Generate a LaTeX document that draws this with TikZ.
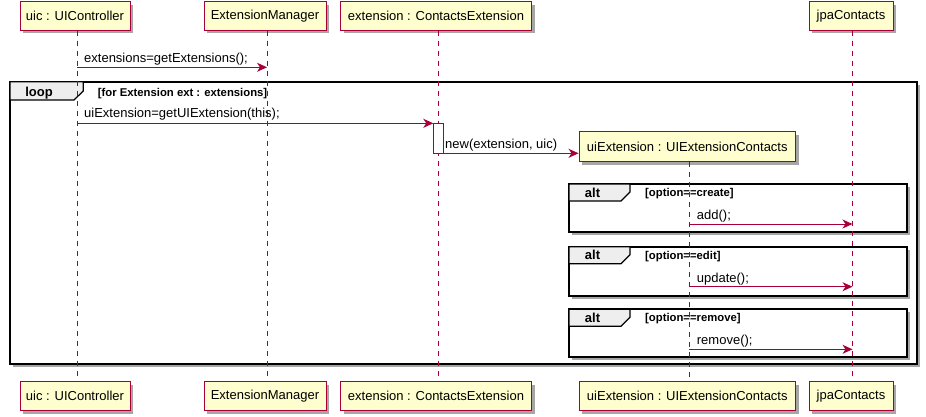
\documentclass[tikz,border=0pt]{standalone}
\usepackage{fontspec}
\setmainfont{Liberation Sans}
\usetikzlibrary{arrows.meta,shadows}
\definecolor{pumlred}{HTML}{A80036}
\definecolor{pumlfill}{HTML}{FEFECE}
\definecolor{tabfill}{HTML}{EEEEEE}
\tikzset{
  part/.style={draw=pumlred, fill=pumlfill, line width=1pt, inner sep=0pt,
    font=\fontsize{13}{15}\selectfont,
    drop shadow={shadow xshift=3pt, shadow yshift=-3pt, fill=black, opacity=.35}},
  life/.style={draw=pumlred, line width=0.8pt, dash pattern=on 5pt off 5pt},
  msg/.style={draw=pumlred, line width=1pt, -{Stealth[length=10pt,width=9pt,inset=3pt]}},
  msgtxt/.style={anchor=base west, inner sep=0pt, font=\fontsize{13}{15}\selectfont},
  frm/.style={draw=black, line width=2pt, fill=white,
    drop shadow={shadow xshift=3pt, shadow yshift=-3pt, fill=black, opacity=.35}},
  tab/.style={draw=black, line width=1.2pt, fill=tabfill},
  tabtxt/.style={anchor=base, inner sep=0pt, font=\bfseries\fontsize{13}{15}\selectfont},
  guard/.style={anchor=base west, inner sep=0pt, font=\bfseries\fontsize{11.3}{13}\selectfont},
  act/.style={draw=pumlred, fill=white, line width=1pt}
}
\begin{document}
\begin{tikzpicture}[x=1pt,y=-1pt]
\useasboundingbox (0,0) rectangle (926,417);
% frames
\draw[frm] (10,81.7) rectangle (916.7,364);
\draw[tab] (10,81.7) -- (83.3,81.7) -- (83.3,91) -- (74,100) -- (10,100) -- cycle;
\node[tabtxt] (loopl) at (39,97) {loop};
\node[guard] (loopg) at (97.7,96.5) {[for Extension ext : extensions]};
\foreach \t/\b/\g/\n in {184/232.3/{[option==create]}/a, 246.7/295.7/{[option==edit]}/b, 309.3/356.7/{[option==remove]}/c}{
  \draw[frm] (569,\t) rectangle (906.7,\b);
  \draw[tab] (569,\t) -- (630,\t) -- (630,\t+8) -- (621,\t+17) -- (569,\t+17) -- cycle;
  \node[tabtxt] (alt\n) at (592.5,\t+13) {alt};
  \node[guard] (guard\n) at (645,\t+12.5) {\g};
}
% participants
\node[part, minimum width=110pt, minimum height=28.5pt] (uicT) at (75,16) {uic : UIController};
\node[part, minimum width=122pt, minimum height=28.5pt] (emT) at (265,16) {ExtensionManager};
\node[part, minimum width=191pt, minimum height=28.5pt] (extT) at (436,16) {extension : ContactsExtension};
\node[part, minimum width=84pt, minimum height=28.5pt] (jpaT) at (851,16) {jpaContacts};
\node[part, minimum width=110pt, minimum height=29pt] (uicB) at (75,396) {uic : UIController};
\node[part, minimum width=122pt, minimum height=29pt] (emB) at (265,396) {ExtensionManager};
\node[part, minimum width=191pt, minimum height=29pt] (extB) at (436,396) {extension : ContactsExtension};
\node[part, minimum width=216.5pt, minimum height=29pt] (uieB) at (687.3,396) {uiExtension : UIExtensionContacts};
\node[part, minimum width=84pt, minimum height=29pt] (jpaB) at (851,396) {jpaContacts};
% lifelines
\draw[life] (uicT.south -| 77.3,0) -- (uicB.north -| 77.3,0);
\draw[life] (emT.south -| 267,0) -- (emB.north -| 267,0);
\draw[life] (extT.south -| 438.3,0) -- (extB.north -| 438.3,0);
\draw[life] (jpaT.south -| 852.5,0) -- (jpaB.north -| 852.5,0);
% activation
\draw[act] (433.3,123.3) rectangle (443.3,153.3);
\coordinate (actL) at (433.3,123.3);
\coordinate (actR) at (443.3,153.3);
% created participant
\node[part, minimum width=216.5pt, minimum height=30pt] (uieT) at (687.3,146.7) {uiExtension : UIExtensionContacts};
\draw[life] (uieT.south -| 689,0) -- (uieB.north -| 689,0);
% messages
\draw[msg] (77.3,67.3) -- (267,67.3);
\node[msgtxt] (t1) at (84,62.3) {extensions=getExtensions();};
\draw[msg] (77.3,123.3) -- (actL);
\node[msgtxt] (t2) at (84,118) {uiExtension=getUIExtension(this);};
\draw[msg] (actR) -- (uieT.west |- actR);
\node[msgtxt] (t3) at (445,148) {new(extension, uic)};
\draw[msg] (689,224) -- (852.5,224);
\node[msgtxt] (t4) at (696.7,219) {add();};
\draw[msg] (689,286.7) -- (852.5,286.7);
\node[msgtxt] (t5) at (696.7,282) {update();};
\draw[msg] (689,349.3) -- (852.5,349.3);
\node[msgtxt] (t6) at (696.7,344.5) {remove();};
\end{tikzpicture}
\end{document}
